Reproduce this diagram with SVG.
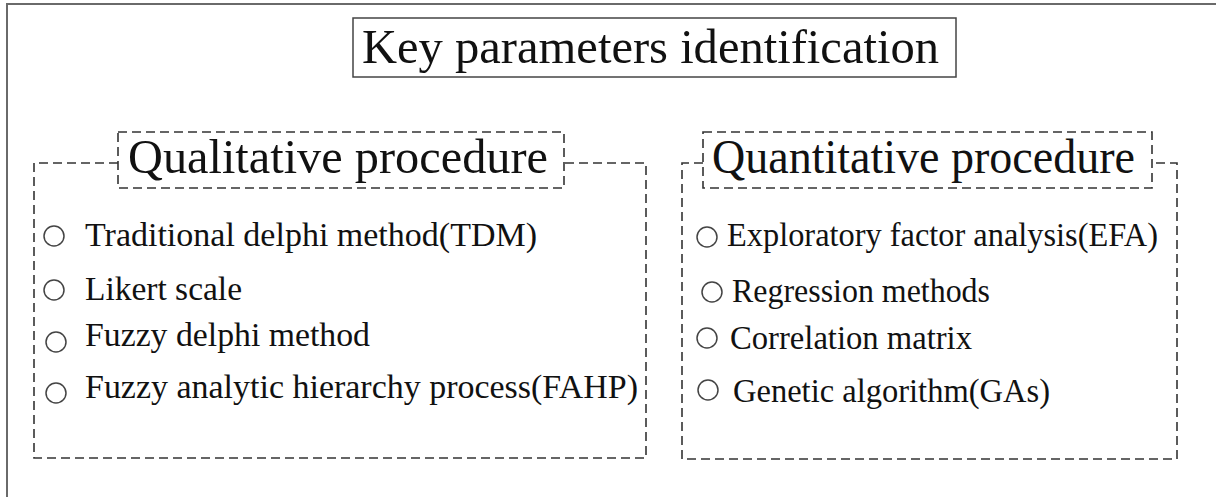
<svg xmlns="http://www.w3.org/2000/svg" width="1216" height="497" viewBox="0 0 1216 497">
<style>
.t{font-family:"Liberation Serif","Times New Roman",serif;fill:#111}
.h{font-size:48px}
.i{font-size:34px}
.d{fill:none;stroke:#333;stroke-width:1.6;stroke-dasharray:9 5}
.c{fill:none;stroke:#444;stroke-width:1.5}
</style>
<rect width="1216" height="497" fill="#fff"/>
<path d="M7,497 V4 H1216" fill="none" stroke="#6a6a6a" stroke-width="2"/>
<g id="title">
<rect x="353" y="18" width="603" height="59" fill="none" stroke="#444" stroke-width="1.5"/>
<text class="t" x="362" y="63" font-size="49" textLength="577" lengthAdjust="spacingAndGlyphs">Key parameters identification</text>
</g>
<g id="connectors">
<path class="d" d="M118,163 H34 V458 H646 V163 H564"/>
<path class="d" d="M703,163 H682 V459 H1177 V163 H1152"/>
</g>
<g id="qualitative">
<rect class="d" x="118" y="132" width="446" height="56"/>
<text class="t h" x="128" y="173" textLength="420" lengthAdjust="spacingAndGlyphs">Qualitative procedure</text>
</g>
<g id="quantitative">
<rect class="d" x="703" y="132" width="449" height="56"/>
<text class="t h" x="712" y="173" textLength="423" lengthAdjust="spacingAndGlyphs">Quantitative procedure</text>
</g>
<g id="item-tdm">
<circle class="c" cx="54" cy="236" r="10"/>
<text class="t i" x="85" y="246" textLength="452" lengthAdjust="spacingAndGlyphs">Traditional delphi method(TDM)</text>
</g>
<g id="item-likert">
<circle class="c" cx="54" cy="290" r="10"/>
<text class="t i" x="85" y="300" textLength="157" lengthAdjust="spacingAndGlyphs">Likert scale</text>
</g>
<g id="item-fdm">
<circle class="c" cx="56" cy="342" r="10"/>
<text class="t i" x="85" y="346" textLength="285" lengthAdjust="spacingAndGlyphs">Fuzzy delphi method</text>
</g>
<g id="item-fahp">
<circle class="c" cx="56" cy="393" r="10"/>
<text class="t i" x="85" y="398" textLength="553" lengthAdjust="spacingAndGlyphs">Fuzzy analytic hierarchy process(FAHP)</text>
</g>
<g id="item-efa">
<circle class="c" cx="707" cy="237" r="10"/>
<text class="t i" x="727" y="246" textLength="431" lengthAdjust="spacingAndGlyphs">Exploratory factor analysis(EFA)</text>
</g>
<g id="item-regression">
<circle class="c" cx="712" cy="292" r="10"/>
<text class="t i" x="732" y="302" textLength="258" lengthAdjust="spacingAndGlyphs">Regression methods</text>
</g>
<g id="item-correlation">
<circle class="c" cx="707" cy="338" r="10"/>
<text class="t i" x="730" y="349" textLength="242" lengthAdjust="spacingAndGlyphs">Correlation matrix</text>
</g>
<g id="item-ga">
<circle class="c" cx="708" cy="390" r="10"/>
<text class="t i" x="733" y="402" textLength="317" lengthAdjust="spacingAndGlyphs">Genetic algorithm(GAs)</text>
</g>
</svg>
